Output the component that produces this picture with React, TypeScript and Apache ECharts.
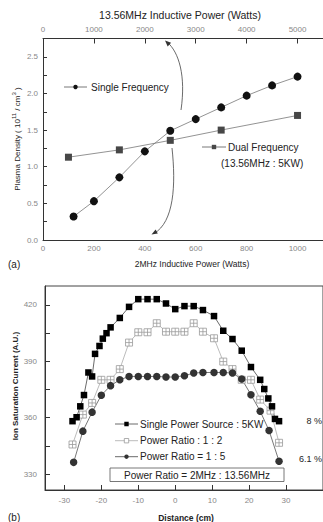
import React, { useEffect, useRef } from 'react';
import * as echarts from 'echarts';

// ---- Panel (a) data ----
const singleFreqX = [120, 200, 300, 400, 500, 600, 700, 800, 900, 1000];
const singleFreqY = [0.32, 0.53, 0.855, 1.21, 1.49, 1.65, 1.81, 1.97, 2.11, 2.23];
const dualFreqX = [100, 300, 500, 700, 1000];
const dualFreqY = [1.13, 1.23, 1.36, 1.5, 1.7];
const topBottomTicks = [0, 200, 400, 600, 800, 1000];
const topTopTicks = [0, 1000, 2000, 3000, 4000, 5000];
const densityTicks = [0, 0.5, 1.0, 1.5, 2.0, 2.5];
const densityMinorTicks = [0, 0.25, 0.5, 0.75, 1.0, 1.25, 1.5, 1.75, 2.0, 2.25, 2.5];

// ---- Panel (b) data ----
const singleSrcX = [-27.8, -26.7, -25.7, -24.7, -23.5, -22.5, -21.7, -20.5, -19.6, -18.6, -17.5, -15, -12.5, -10, -7.5, -5, -2.5, 0, 2.5, 5, 7.5, 10.5, 13, 15.5, 18, 20.5, 23, 24.1, 25.2, 26.2, 27, 28.1];
const singleSrcY = [358.1, 360.2, 366.0, 372.0, 384.0, 381.9, 393.9, 398.1, 402.0, 404.9, 408.0, 413.0, 418.9, 423.0, 423.0, 423.0, 420.7, 417.7, 419.3, 419.3, 417.2, 414.0, 406.2, 401.8, 395.6, 386.9, 380.1, 375.2, 370.2, 366.0, 359.3, 358.1];
const ratio12X = [-27.8, -25, -22.5, -20, -17.5, -15, -12.5, -10, -7.5, -5, -2.5, 0, 2.5, 5, 7.5, 10.5, 13, 15.5, 18, 20.5, 23, 25.8, 28.1];
const ratio12Y = [345.7, 361.6, 367.8, 380.1, 380.1, 385.8, 399.9, 405.4, 405.4, 410.2, 405.7, 405.7, 405.7, 410.2, 405.7, 402.2, 389.8, 385.8, 380.1, 380.1, 369.6, 363.7, 346.6];
const ratio15X = [-27.5, -25, -22.5, -20, -17.5, -15, -12.5, -10, -7.5, -5, -2.5, 0, 2.5, 5, 7.5, 10.5, 13, 15.5, 18, 20.5, 23, 25.4, 28.1];
const ratio15Y = [336.2, 352.8, 362.9, 371.9, 377.0, 380.1, 381.9, 381.9, 381.9, 381.9, 381.6, 381.6, 382.3, 383.7, 384.0, 384.0, 384.0, 383.7, 380.5, 372.2, 363.4, 353.1, 336.8];
const distLabels = [-30, -20, -10, 0, 10, 20, 30];
const currentLabels = [330, 360, 390, 420];
const currentTicks = [330, 345, 360, 375, 390, 405, 420];

const FONT = 'Liberation Sans, Arial, sans-serif';

const zip = (xs: number[], ys: number[]) => xs.map((x, i) => [x, ys[i]]);

const crossSquare = 'path://M0,0L10,0L10,10L0,10Z M5,0L5,10 M0,5L10,5';

function legendSymbol(x1: number, x2: number, y: number, kind: string, color: string, lineColor: string): any {
  const cx = (x1 + x2) / 2;
  const children: any[] = [
    { type: 'line', shape: { x1, y1: y, x2, y2: y }, style: { stroke: lineColor, lineWidth: 0.8 } },
  ];
  if (kind === 'circle') {
    children.push({ type: 'circle', shape: { cx, cy: y, r: 2.2 }, style: { fill: color } });
  } else if (kind === 'rect') {
    children.push({ type: 'rect', shape: { x: cx - 2.2, y: y - 2.2, width: 4.4, height: 4.4 }, style: { fill: color } });
  } else {
    children.push({ type: 'rect', shape: { x: cx - 2.2, y: y - 2.2, width: 4.4, height: 4.4 }, style: { fill: '#fff', stroke: color, lineWidth: 0.8 } });
  }
  return { type: 'group', children };
}

function text(x: number, y: number, t: string, size: number, extra: any = {}): any {
  return {
    type: 'text',
    x,
    y,
    style: {
      text: t,
      fontSize: size,
      fontFamily: FONT,
      fill: '#222',
      align: 'left',
      verticalAlign: 'middle',
      ...extra,
    },
  };
}

export default function App() {
  const ref = useRef<HTMLDivElement>(null);
  useEffect(() => {
    if (!ref.current) return;
    const chart = echarts.init(ref.current, undefined, { renderer: 'svg' });
    const plain = (v: number) => String(v);
    const labelStyle = { fontSize: 8, color: '#888', fontFamily: FONT };
    const axisLine = { show: true, onZero: false, lineStyle: { color: '#333', width: 1 } };
    const option: any = {
      animation: false,
      backgroundColor: '#fff',
      grid: [
        { left: 43, top: 38.5, width: 281.6, height: 201.5, show: false },
        { left: 45, top: 286, width: 301, height: 204, show: true, borderColor: '#444', borderWidth: 1, backgroundColor: 'transparent' },
      ],
      xAxis: [
        {
          gridIndex: 0, type: 'value', position: 'bottom', min: 0, max: 1100,
          axisLine, splitLine: { show: false },
          axisTick: { show: false },
          axisLabel: { ...labelStyle, margin: 4, customValues: topBottomTicks, formatter: plain },
        },
        {
          gridIndex: 0, type: 'value', position: 'top', min: 0, max: 5500,
          axisLine, splitLine: { show: false },
          axisTick: { show: true, inside: true, length: 5, customValues: topTopTicks, lineStyle: { color: '#333' } },
          axisLabel: { ...labelStyle, margin: 5, customValues: topTopTicks, formatter: plain },
        },
        {
          gridIndex: 1, type: 'value', position: 'bottom', min: -35.25, max: 40,
          axisLine, splitLine: { show: false },
          axisTick: { show: true, inside: true, length: 5, customValues: distLabels, lineStyle: { color: '#333' } },
          axisLabel: { ...labelStyle, margin: 6, customValues: distLabels, formatter: plain },
        },
      ],
      yAxis: [
        {
          gridIndex: 0, type: 'value', min: 0, max: 2.75,
          axisLine, splitLine: { show: false },
          axisTick: { show: true, inside: true, length: 4, customValues: densityMinorTicks, lineStyle: { color: '#333' } },
          axisLabel: { ...labelStyle, margin: 5, customValues: densityTicks, formatter: (v: number) => v.toFixed(1) },
        },
        {
          gridIndex: 1, type: 'value', min: 321.5, max: 430,
          axisLine, splitLine: { show: false },
          axisTick: { show: true, inside: true, length: 5, customValues: currentTicks, lineStyle: { color: '#333' } },
          axisLabel: { ...labelStyle, margin: 8, customValues: currentLabels, formatter: plain },
        },
      ],
      series: [
        {
          name: 'Single Frequency', type: 'line', xAxisIndex: 0, yAxisIndex: 0,
          data: zip(singleFreqX, singleFreqY),
          symbol: 'circle', symbolSize: 8,
          itemStyle: { color: '#111' },
          lineStyle: { color: '#777', width: 0.8 },
        },
        {
          name: 'Dual Frequency', type: 'line', xAxisIndex: 0, yAxisIndex: 0,
          data: zip(dualFreqX, dualFreqY),
          symbol: 'rect', symbolSize: 7,
          itemStyle: { color: '#474747' },
          lineStyle: { color: '#777', width: 0.8 },
        },
        {
          name: 'Power Ratio : 1 : 2', type: 'line', xAxisIndex: 2, yAxisIndex: 1,
          data: zip(ratio12X, ratio12Y),
          symbol: crossSquare, symbolSize: 7,
          itemStyle: { color: '#fff', borderColor: '#999', borderWidth: 0.8 },
          lineStyle: { color: '#aaa', width: 0.8 },
        },
        {
          name: 'Power Ratio = 1 : 5', type: 'line', xAxisIndex: 2, yAxisIndex: 1,
          data: zip(ratio15X, ratio15Y),
          symbol: 'circle', symbolSize: 7.5,
          itemStyle: { color: '#333' },
          lineStyle: { color: '#555', width: 0.8 },
        },
        {
          name: 'Single Power Source : 5KW', type: 'line', xAxisIndex: 2, yAxisIndex: 1,
          data: zip(singleSrcX, singleSrcY),
          symbol: 'rect', symbolSize: 6.5,
          itemStyle: { color: '#000' },
          lineStyle: { color: '#444', width: 0.8 },
        },
      ],
      graphic: [
        // Panel (a) titles
        text(180, 15, '13.56MHz Inductive Power (Watts)', 10.5, { align: 'center' }),
        text(192, 264, '2MHz Inductive Power (Watts)', 8.5, { align: 'center' }),
        text(8, 264, '(a)', 10),
        {
          type: 'text', x: 16, y: 139, rotation: Math.PI / 2,
          style: {
            text: '{n|Plasma Density ( 10}{s|11}{n| / cm}{s|3}{n| )}',
            align: 'center', verticalAlign: 'middle', fill: '#222',
            rich: {
              n: { fontSize: 8, fontFamily: FONT, fill: '#222', lineHeight: 11, verticalAlign: 'bottom' },
              s: { fontSize: 6, fontFamily: FONT, fill: '#222', lineHeight: 11, verticalAlign: 'top' },
            },
          },
        },
        // Panel (a) legends
        legendSymbol(64, 87, 87, 'circle', '#111', '#555'),
        text(91, 87, 'Single Frequency', 10),
        legendSymbol(202, 226, 147, 'rect', '#474747', '#555'),
        text(228, 147, 'Dual Frequency', 10),
        text(221, 163, '(13.56MHz : 5KW)', 10),
        // Arrows
        {
          type: 'bezierCurve',
          shape: { x1: 181, y1: 110, cpx1: 186, cpy1: 76, cpx2: 179, cpy2: 52, x2: 167, y2: 42 },
          style: { stroke: '#444', lineWidth: 0.8, fill: null },
        },
        {
          type: 'polygon',
          shape: { points: [[165, 40.5], [171.1, 42.8], [167.7, 46.4]] },
          style: { fill: '#333' },
        },
        {
          type: 'bezierCurve',
          shape: { x1: 172, y1: 148, cpx1: 176, cpy1: 185, cpx2: 174, cpy2: 222, x2: 154, y2: 233.5 },
          style: { stroke: '#444', lineWidth: 0.8, fill: null },
        },
        {
          type: 'polygon',
          shape: { points: [[151.5, 234.5], [157.8, 233.4], [155.6, 229.6]] },
          style: { fill: '#333' },
        },
        // Panel (b) titles
        text(186, 518, 'Distance (cm)', 8.5, { align: 'center', fontWeight: 'bold' }),
        text(8, 517, '(b)', 10),
        {
          type: 'text', x: 15, y: 386, rotation: Math.PI / 2,
          style: {
            text: 'Ion Saturation Current (A.U.)', fontSize: 8, fontFamily: FONT, fontWeight: 'bold',
            fill: '#222', align: 'center', verticalAlign: 'middle',
          },
        },
        // Panel (b) legend
        legendSymbol(115, 138, 424, 'rect', '#000', '#444'),
        text(140, 424, 'Single Power Source : 5KW', 10),
        legendSymbol(115, 138, 440.7, 'cross', '#999', '#aaa'),
        text(140, 440.7, 'Power Ratio : 1 : 2', 10),
        legendSymbol(115, 138, 456.7, 'circle', '#333', '#444'),
        text(140, 456.7, 'Power Ratio = 1 : 5', 10),
        {
          type: 'rect',
          shape: { x: 110, y: 468, width: 174, height: 13.5 },
          style: { fill: '#fff', stroke: '#555', lineWidth: 0.8 },
        },
        text(197, 475, 'Power Ratio = 2MHz : 13.56MHz', 10, { align: 'center' }),
        text(322, 421, '8 %', 9, { align: 'right' }),
        text(322, 459, '6.1 %', 9, { align: 'right' }),
      ],
    };
    chart.setOption(option);
    return () => chart.dispose();
  }, []);
  return (
    <div
      ref={ref}
      style={{ position: 'fixed', left: 0, top: 0, width: 323, height: 522, background: '#fff' }}
    />
  );
}
